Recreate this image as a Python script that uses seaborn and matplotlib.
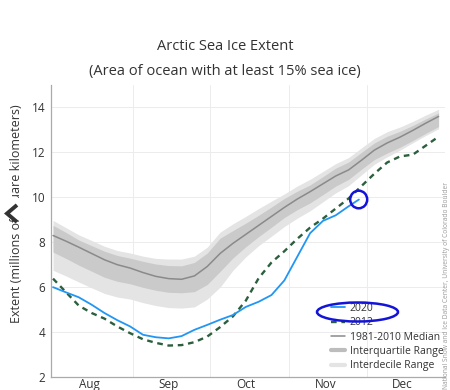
import pandas as pd
import matplotlib.pyplot as plt
import seaborn as sns
from matplotlib.lines import Line2D
from matplotlib.patches import Ellipse, Rectangle

# ========== DATA (millions of km^2, every 5 days from Aug 1) ==========
dates = pd.date_range('2020-08-01', periods=31, freq='5D')

median_8110 = [8.30, 8.05, 7.78, 7.50, 7.22, 7.00, 6.85, 6.65, 6.48, 6.38, 6.35,
               6.50, 6.92, 7.50, 7.95, 8.35, 8.75, 9.15, 9.55, 9.92, 10.25,
               10.60, 10.95, 11.22, 11.65, 12.10, 12.42, 12.68, 12.98, 13.30, 13.60]
p90 = [8.97, 8.65, 8.33, 8.08, 7.82, 7.63, 7.52, 7.38, 7.28, 7.25, 7.25,
       7.38, 7.78, 8.45, 8.82, 9.15, 9.50, 9.83, 10.15, 10.50, 10.80,
       11.15, 11.50, 11.77, 12.20, 12.62, 12.92, 13.13, 13.38, 13.66, 13.92]
p75 = [8.75, 8.44, 8.10, 7.85, 7.60, 7.41, 7.29, 7.15, 7.03, 6.96, 6.95,
       7.10, 7.52, 8.18, 8.52, 8.85, 9.20, 9.57, 9.95, 10.27, 10.55,
       10.92, 11.30, 11.57, 12.00, 12.42, 12.72, 12.94, 13.20, 13.49, 13.76]
p25 = [7.56, 7.28, 6.98, 6.71, 6.44, 6.26, 6.15, 5.99, 5.86, 5.77, 5.75,
       5.80, 6.12, 6.70, 7.30, 7.80, 8.25, 8.67, 9.10, 9.45, 9.75,
       10.12, 10.50, 10.80, 11.25, 11.68, 11.97, 12.23, 12.53, 12.85, 13.15]
p10 = [6.75, 6.50, 6.23, 5.97, 5.72, 5.56, 5.47, 5.31, 5.18, 5.09, 5.07,
       5.12, 5.47, 6.00, 6.75, 7.35, 7.85, 8.27, 8.70, 9.07, 9.40,
       9.80, 10.20, 10.52, 11.00, 11.47, 11.80, 12.10, 12.43, 12.75, 13.05]
ice_2012 = [6.38, 5.78, 5.18, 4.85, 4.60, 4.25, 3.95, 3.68, 3.52, 3.40, 3.42,
            3.55, 3.80, 4.22, 4.70, 5.40, 6.40, 7.10, 7.60, 8.15, 8.65,
            9.05, 9.50, 9.95, 10.50, 11.05, 11.55, 11.82, 11.90, 12.30, 12.70]

dates_2020 = list(dates[:24]) + [pd.Timestamp('2020-11-28')]
ice_2020 = [6.00, 5.77, 5.55, 5.22, 4.85, 4.53, 4.25, 3.88, 3.77, 3.72, 3.82,
            4.10, 4.32, 4.55, 4.76, 5.12, 5.35, 5.65, 6.30, 7.35, 8.40,
            8.95, 9.20, 9.60, 9.90]

month_labels = ['Aug', 'Sep', 'Oct', 'Nov', 'Dec']
month_mid = pd.to_datetime(['2020-08-15', '2020-09-15', '2020-10-15', '2020-11-15', '2020-12-15'])
month_edges = pd.to_datetime(['2020-09-01', '2020-10-01', '2020-11-01', '2020-12-01'])

df_clim = pd.DataFrame({'date': dates, 'median': median_8110, 'y2012': ice_2012})
df_2020 = pd.DataFrame({'date': dates_2020, 'y2020': ice_2020})

# ========== STYLE ==========
sns.set_theme(style='white')
plt.rcParams['font.family'] = ['Open Sans', 'DejaVu Sans']

BLUE = '#2196f3'
GREEN = '#2c5f3d'
MED = '#8a8a8a'
IQR_C = '#cacaca'
IDR_C = '#e4e4e4'
RING = '#1414d8'

fig = plt.figure(figsize=(4.5, 3.9), dpi=100)
ax = fig.add_axes([51 / 450, 1 - 377 / 390, (445 - 51) / 450, (377 - 85) / 390])

# ========== BANDS + LINES ==========
ax.fill_between(dates, p10, p90, color=IDR_C, lw=0, zorder=1)
ax.fill_between(dates, p25, p75, color=IQR_C, lw=0, zorder=2)
sns.lineplot(data=df_clim, x='date', y='median', color=MED, lw=1.1, ax=ax, zorder=3)
sns.lineplot(data=df_clim, x='date', y='y2012', color=GREEN, lw=1.7, ax=ax, zorder=4)
ax.lines[-1].set_dashes((2.4, 2.0))
sns.lineplot(data=df_2020, x='date', y='y2020', color=BLUE, lw=1.3, ax=ax, zorder=5)

# ========== AXES ==========
ax.set_ylim(2, 15)
ax.set_yticks([2, 4, 6, 8, 10, 12, 14])
ax.set_xlim(pd.Timestamp('2020-08-01') - pd.Timedelta(hours=19),
            pd.Timestamp('2020-08-01') + pd.Timedelta(days=152.5))
ax.set_xticks(month_mid)
ax.set_xticklabels(month_labels)
ax.set_xticks(month_edges, minor=True)
ax.tick_params(axis='x', which='major', length=0, pad=1, labelsize=8.5, colors='#333333')
ax.tick_params(axis='x', which='minor', length=3, color='#bbbbbb', width=0.8)
ax.tick_params(axis='y', length=0, pad=4, labelsize=8.5, colors='#333333')
ax.grid(False)
ax.grid(axis='y', color='#ececec', lw=0.7)
ax.grid(axis='x', which='minor', color='#ececec', lw=0.7)
ax.set_axisbelow(True)
for s in ['top', 'right']:
    ax.spines[s].set_visible(False)
for s in ['left', 'bottom']:
    ax.spines[s].set_color('#aaaaaa')
    ax.spines[s].set_linewidth(0.9)
ax.set_xlabel('')
ax.set_ylabel('')

# ========== TEXT ==========
fig.text(0.5, 1 - 47 / 390, 'Arctic Sea Ice Extent', ha='center', va='center',
         fontsize=10.5, color='#333333')
fig.text(0.5, 1 - 71 / 390, '(Area of ocean with at least 15% sea ice)', ha='center',
         va='center', fontsize=10.5, color='#333333')
fig.text(17 / 450, 1 - 214 / 390, 'Extent (millions of square kilometers)', rotation=90,
         ha='center', va='center', fontsize=9, color='#333333')
fig.text(447 / 450, 1 - 389 / 390,
         'National Snow and Ice Data Center, University of Colorado Boulder',
         rotation=90, ha='center', va='bottom', fontsize=4.8, color='#999999')

# chevron overlay covering part of the y label
fig.add_artist(Rectangle((4 / 450, 1 - 219 / 390), 22 / 450, 21 / 390,
                         transform=fig.transFigure, facecolor='white', edgecolor='none',
                         zorder=10))
fig.add_artist(Line2D([17 / 450, 7 / 450, 17 / 450],
                      [1 - 205 / 390, 1 - 213.5 / 390, 1 - 222 / 390],
                      transform=fig.transFigure, color='#333333', lw=2.8,
                      solid_capstyle='butt', solid_joinstyle='miter', zorder=11))

# ========== LEGEND ==========
handles = [Line2D([], [], color=BLUE, lw=1.3),
           Line2D([], [], color=GREEN, lw=1.7, dashes=(2.4, 2.0)),
           Line2D([], [], color=MED, lw=1.1),
           Line2D([], [], color='#bdbdbd', lw=3),
           Line2D([], [], color=IDR_C, lw=3)]
labels = ['2020', '2012', '1981-2010 Median', 'Interquartile Range', 'Interdecile Range']
fig.legend(handles, labels, loc='upper left', bbox_to_anchor=(331 / 450, 1 - 303 / 390),
           frameon=False, fontsize=7.5, handlelength=1.3, handletextpad=0.5,
           labelspacing=0.32, borderpad=0, borderaxespad=0, labelcolor='#333333')

# hand-drawn rings
fig.add_artist(Ellipse((357.5 / 450, 1 - 312 / 390), 81 / 450, 19 / 390,
                       transform=fig.transFigure, fill=False, edgecolor=RING, lw=1.8,
                       zorder=12))
fig.add_artist(Ellipse((358.7 / 450, 1 - 199.5 / 390), 17 / 450, 17.6 / 390,
                       transform=fig.transFigure, fill=False, edgecolor=RING, lw=1.8,
                       zorder=12))

fig.savefig('out.png', dpi=100, facecolor='white')
